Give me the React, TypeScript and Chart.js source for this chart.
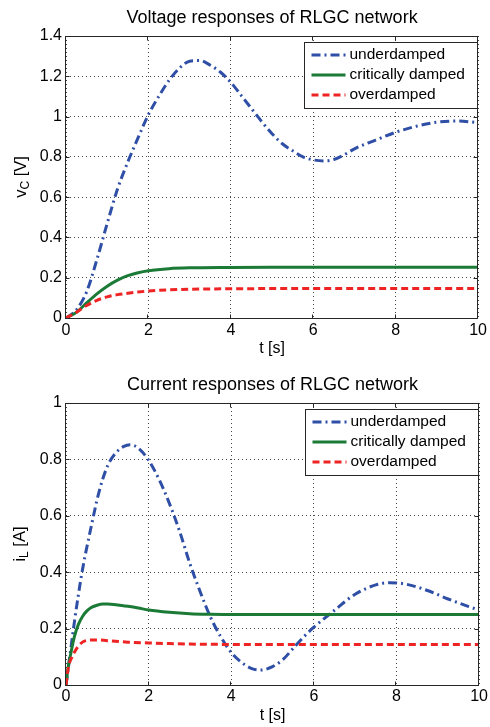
import React, { useEffect, useRef } from "react";
import { Chart, registerables } from "chart.js";

Chart.register(...registerables);

const FONT = '"Liberation Sans", Arial, Helvetica, sans-serif';

// ---------- tick labels ----------
const xTicks = [0, 2, 4, 6, 8, 10];
const vTicks = [0, 0.2, 0.4, 0.6, 0.8, 1, 1.2, 1.4];
const iTicks = [0, 0.2, 0.4, 0.6, 0.8, 1];

// ---------- series ----------
const seriesLabels = ["underdamped", "critically damped", "overdamped"];
const seriesColors = ["#2f4fa6", "#1b7a36", "#ee2424"];
const seriesDashes = [[9, 4, 2, 4], [], [7, 4]];

// Voltage responses
const tVUnder = [0, 0.25, 0.5, 0.75, 1, 1.25, 1.5, 1.75, 2, 2.25, 2.5, 2.75, 3, 3.25, 3.5, 3.75, 4, 4.25, 4.5, 4.75, 5, 5.25, 5.5, 5.75, 6, 6.25, 6.5, 6.75, 7, 7.5, 8, 8.5, 9, 9.5, 10];
const vUnder = [0, 0.04, 0.13, 0.29, 0.47, 0.64, 0.775, 0.895, 1.01, 1.1, 1.18, 1.24, 1.275, 1.278, 1.255, 1.22, 1.17, 1.105, 1.04, 0.975, 0.915, 0.865, 0.83, 0.8, 0.785, 0.78, 0.787, 0.81, 0.84, 0.882, 0.922, 0.952, 0.972, 0.978, 0.97];
const tVDamped = [0, 0.25, 0.5, 0.75, 1, 1.25, 1.5, 1.75, 2, 2.5, 3, 4, 5, 6, 7, 8, 9, 10];
const vCrit = [0, 0.028, 0.075, 0.12, 0.158, 0.188, 0.21, 0.225, 0.235, 0.245, 0.249, 0.251, 0.252, 0.252, 0.252, 0.252, 0.252, 0.252];
const vOver = [0, 0.028, 0.062, 0.088, 0.105, 0.116, 0.123, 0.129, 0.134, 0.14, 0.143, 0.145, 0.146, 0.146, 0.146, 0.146, 0.146, 0.146];

// Current responses
const tIUnder = [0, 0.1, 0.2, 0.3, 0.4, 0.6, 0.8, 1.0, 1.2, 1.4, 1.55, 1.75, 2.0, 2.25, 2.5, 2.75, 3.0, 3.25, 3.5, 3.75, 4.0, 4.25, 4.5, 4.7, 5.0, 5.25, 5.5, 5.75, 6.0, 6.5, 7.0, 7.5, 7.85, 8.25, 8.75, 9.25, 9.75, 10];
const iUnder = [0, 0.11, 0.22, 0.32, 0.41, 0.555, 0.685, 0.775, 0.822, 0.846, 0.852, 0.84, 0.797, 0.73, 0.645, 0.545, 0.43, 0.33, 0.24, 0.17, 0.115, 0.08, 0.058, 0.053, 0.065, 0.09, 0.13, 0.17, 0.205, 0.265, 0.322, 0.355, 0.363, 0.357, 0.335, 0.305, 0.278, 0.265];
const tICrit = [0, 0.05, 0.1, 0.2, 0.3, 0.4, 0.5, 0.6, 0.75, 0.9, 1.0, 1.25, 1.5, 1.75, 2.0, 2.5, 3.0, 3.5, 4, 5, 6, 7, 8, 9, 10];
const iCrit = [0, 0.06, 0.1, 0.17, 0.215, 0.243, 0.262, 0.274, 0.283, 0.287, 0.287, 0.284, 0.279, 0.273, 0.266, 0.258, 0.253, 0.251, 0.25, 0.25, 0.25, 0.25, 0.25, 0.25, 0.25];
const tIOver = [0, 0.05, 0.1, 0.15, 0.2, 0.3, 0.4, 0.5, 0.6, 0.75, 1.0, 1.5, 2.0, 2.5, 3, 4, 5, 6, 7, 8, 9, 10];
const iOver = [0, 0.055, 0.085, 0.1, 0.115, 0.138, 0.152, 0.158, 0.16, 0.16, 0.157, 0.152, 0.149, 0.147, 0.145, 0.144, 0.144, 0.144, 0.144, 0.144, 0.144, 0.144];

const zip = (t: number[], v: number[]) => t.map((x, i) => ({ x, y: v[i] }));
const fmt = (v: number) => {
  const s = Number(v).toFixed(1);
  return s.endsWith(".0") ? s.slice(0, -2) : s;
};

type Series = { t: number[]; v: number[] };

type PanelProps = {
  top: number;
  height: number;
  title: string;
  titleY: number;
  plotTop: number;
  yTicks: number[];
  yMax: number;
  yMain: string;
  ySub: string;
  yUnit: string;
  yTitleX: number;
  xAxisHeight: number;
  xTickPad: number;
  xTitlePadBottom: number;
  series: Series[];
};

function Panel(p: PanelProps) {
  const ref = useRef<HTMLCanvasElement>(null);
  useEffect(() => {
    const canvas = ref.current!;
    const framePlugin = {
      id: "frame",
      afterDatasetsDraw(chart: any) {
        const { ctx, chartArea: a, scales } = chart;
        ctx.save();
        ctx.strokeStyle = "#262626";
        ctx.lineWidth = 1;
        ctx.setLineDash([]);
        const L = Math.round(a.left) - 0.5;
        const R = Math.round(a.right) - 0.5;
        const T = Math.round(a.top) + 0.5;
        const B = Math.round(a.bottom) + 0.5;
        ctx.strokeRect(L, T, R - L, B - T);
        ctx.beginPath();
        xTicks.forEach((v) => {
          const px = Math.round(scales.x.getPixelForValue(v)) - 0.5;
          ctx.moveTo(px, B);
          ctx.lineTo(px, B - 4);
          ctx.moveTo(px, T);
          ctx.lineTo(px, T + 4);
        });
        p.yTicks.forEach((v) => {
          const py = Math.round(scales.y.getPixelForValue(v)) + 0.5;
          ctx.moveTo(L, py);
          ctx.lineTo(L + 4, py);
          ctx.moveTo(R, py);
          ctx.lineTo(R - 4, py);
        });
        ctx.stroke();
        ctx.restore();
      },
    };
    const legendPlugin = {
      id: "boxLegend",
      afterDraw(chart: any) {
        const { ctx, chartArea: a } = chart;
        const w = 173;
        const h = 66;
        const left = Math.round(a.right) - w - 0.5;
        const top = Math.round(a.top) + 6.5;
        ctx.save();
        ctx.fillStyle = "#ffffff";
        ctx.fillRect(left, top, w, h);
        ctx.strokeStyle = "#262626";
        ctx.lineWidth = 1;
        ctx.setLineDash([]);
        ctx.strokeRect(left, top, w, h);
        const rows = [12.5, 32.5, 52.5];
        chart.data.datasets.forEach((ds: any, i: number) => {
          const y = top + rows[i];
          ctx.beginPath();
          ctx.strokeStyle = ds.borderColor;
          ctx.lineWidth = ds.borderWidth;
          ctx.setLineDash(ds.borderDash || []);
          ctx.moveTo(left + 7, y);
          ctx.lineTo(left + 41, y);
          ctx.stroke();
          ctx.setLineDash([]);
          ctx.fillStyle = "#000";
          ctx.font = `15.5px ${FONT}`;
          ctx.textBaseline = "middle";
          ctx.textAlign = "left";
          ctx.fillText(ds.label, left + 45, y);
        });
        ctx.restore();
      },
    };
    const textPlugin = {
      id: "texts",
      afterDraw(chart: any) {
        const { ctx, chartArea: a } = chart;
        ctx.save();
        // plot title, centred over the axes box
        ctx.fillStyle = "#000";
        ctx.textBaseline = "middle";
        ctx.textAlign = "center";
        ctx.font = `18px ${FONT}`;
        ctx.fillText(p.title, (a.left + a.right) / 2, p.titleY);
        // y axis title with subscript
        const main = `16.5px ${FONT}`;
        const sub = `12px ${FONT}`;
        ctx.translate(p.yTitleX, (a.top + a.bottom) / 2);
        ctx.rotate(-Math.PI / 2);
        ctx.textAlign = "left";
        ctx.font = main;
        const w1 = ctx.measureText(p.yMain).width;
        const w3 = ctx.measureText(p.yUnit).width;
        ctx.font = sub;
        const w2 = ctx.measureText(p.ySub).width;
        let cx = -(w1 + w2 + w3) / 2;
        ctx.font = main;
        ctx.fillText(p.yMain, cx, 0);
        cx += w1;
        ctx.font = sub;
        ctx.fillText(p.ySub, cx, 5);
        cx += w2;
        ctx.font = main;
        ctx.fillText(p.yUnit, cx, 0);
        ctx.restore();
      },
    };

    const chart = new Chart(canvas, {
      type: "line",
      data: {
        datasets: p.series.map((s, i) => ({
          label: seriesLabels[i],
          data: zip(s.t, s.v),
          borderColor: seriesColors[i],
          backgroundColor: seriesColors[i],
          borderWidth: 3,
          borderDash: seriesDashes[i],
          borderCapStyle: "butt",
          pointRadius: 0,
          fill: false,
          cubicInterpolationMode: "monotone",
          order: 3 - i,
        })),
      } as any,
      options: {
        responsive: false,
        animation: false,
        devicePixelRatio: 1,
        layout: { padding: { left: 0, right: 10, top: p.plotTop, bottom: 0 } },
        plugins: {
          legend: { display: false },
          tooltip: { enabled: false },
          title: { display: false },
        },
        scales: {
          x: {
            type: "linear",
            min: 0,
            max: 10,
            afterBuildTicks: (s: any) => {
              s.ticks = xTicks.map((v) => ({ value: v }));
            },
            afterFit: (s: any) => {
              s.height = p.xAxisHeight;
            },
            ticks: {
              color: "#000",
              font: { family: FONT, size: 16 },
              padding: p.xTickPad,
              maxRotation: 0,
              autoSkip: false,
              callback: (v: any) => fmt(v),
            },
            grid: { color: "rgba(40,40,40,0.85)", lineWidth: 1, drawTicks: false },
            border: { display: false, dash: [1, 3] },
            title: {
              display: true,
              text: "t [s]",
              color: "#000",
              font: { family: FONT, size: 16 },
              padding: { top: 0, bottom: p.xTitlePadBottom },
            },
          },
          y: {
            type: "linear",
            min: 0,
            max: p.yMax,
            afterBuildTicks: (s: any) => {
              s.ticks = p.yTicks.map((v) => ({ value: v }));
            },
            afterFit: (s: any) => {
              s.width = 66;
            },
            ticks: {
              color: "#000",
              font: { family: FONT, size: 16 },
              padding: 4,
              autoSkip: false,
              callback: (v: any) => fmt(v),
            },
            grid: { color: "rgba(40,40,40,0.85)", lineWidth: 1, drawTicks: false },
            border: { display: false, dash: [1, 3] },
          },
        },
      } as any,
      plugins: [framePlugin, legendPlugin, textPlugin],
    });
    return () => chart.destroy();
  }, []);
  return (
    <canvas
      ref={ref}
      width={490}
      height={p.height}
      style={{ position: "absolute", left: 0, top: p.top, width: 490, height: p.height, display: "block" }}
    />
  );
}

export default function App() {
  return (
    <div style={{ position: "absolute", left: 0, top: 0, width: 490, height: 727, background: "#fff" }}>
      <Panel
        top={0}
        height={362}
        title="Voltage responses of RLGC network"
        titleY={18}
        plotTop={36}
        yTicks={vTicks}
        yMax={1.4}
        yMain="v"
        ySub="C"
        yUnit=" [V]"
        yTitleX={21}
        xAxisHeight={44}
        xTickPad={3}
        xTitlePadBottom={4}
        series={[
          { t: tVUnder, v: vUnder },
          { t: tVDamped, v: vCrit },
          { t: tVDamped, v: vOver },
        ]}
      />
      <Panel
        top={362}
        height={365}
        title="Current responses of RLGC network"
        titleY={23}
        plotTop={41}
        yTicks={iTicks}
        yMax={1}
        yMain="i"
        ySub="L"
        yUnit=" [A]"
        yTitleX={20}
        xAxisHeight={42}
        xTickPad={2}
        xTitlePadBottom={2}
        series={[
          { t: tIUnder, v: iUnder },
          { t: tICrit, v: iCrit },
          { t: tIOver, v: iOver },
        ]}
      />
    </div>
  );
}
